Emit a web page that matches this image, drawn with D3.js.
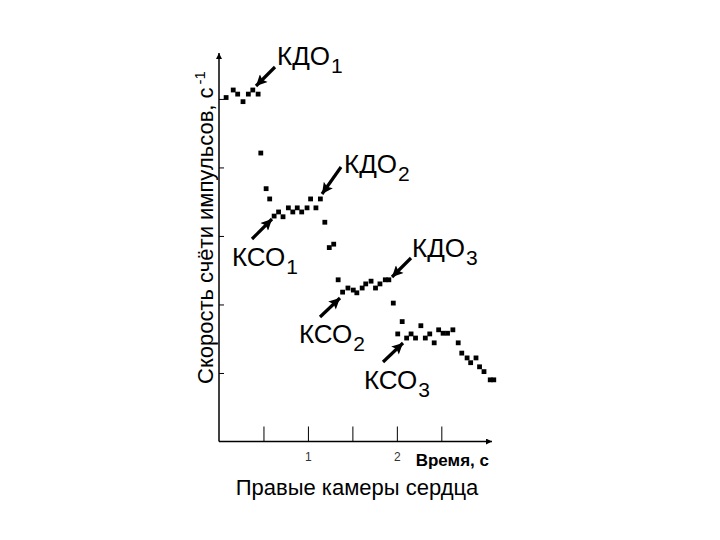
<!DOCTYPE html>
<html><head><meta charset="utf-8">
<script src="https://cdn.jsdelivr.net/npm/d3@7"></script>
<style>body{margin:0;background:#fff}svg{display:block}</style>
</head><body>
<svg id="c" width="720" height="540"></svg>
<script>
// Time (s) and count-rate (relative units)
const times = [0.08,0.16,0.21,0.27,0.33,0.38,0.44,
  0.47,0.53,0.57,0.62,0.67,0.72,0.78,0.83,0.88,0.93,0.99,1.03,1.09,1.14,1.19,1.24,1.29,
  1.34,1.39,1.45,1.51,1.55,1.61,1.65,1.71,1.76,1.81,1.87,1.91,
  1.96,2.06,2.01,2.11,2.16,2.21,2.27,2.32,2.37,2.42,2.47,2.52,2.57,2.63,2.69,2.73,2.79,2.83,2.89,2.93,2.98,3.05,3.09];
const rates = [5.02,5.13,5.07,4.96,5.07,5.13,5.07,
  4.21,3.69,3.54,3.29,3.35,3.28,3.41,3.35,3.41,3.35,3.41,3.54,3.41,3.54,3.20,2.83,2.88,
  2.36,2.18,2.24,2.21,2.17,2.24,2.30,2.34,2.24,2.30,2.36,2.36,
  2.02,1.75,1.57,1.51,1.57,1.51,1.69,1.51,1.57,1.44,1.63,1.58,1.58,1.63,1.44,1.29,1.22,1.15,1.22,1.09,1.02,0.90,0.90];
const xTicks = [0.5,1,1.5,2,2.5];
const xTickLabels = ["", "1", "", "2", ""];
const yTicks = [1,2,3,4,5];
const labelNames = ["КДО","КДО","КСО","КДО","КСО","КСО"];
const labelSubs = ["1","2","1","3","2","3"];
const yTitle = "Скорость счёти импульсов, с";
const yTitleSup = "-1";
const xTitle = "Время, с";
const caption = "Правые камеры сердца";

const svg = d3.select("#c");
const FONT = "'Liberation Sans', Arial, sans-serif";
const x = d3.scaleLinear().domain([0, 3.07]).range([219, 492]);
const y = d3.scaleLinear().domain([0, 5.67]).range([441.5, 53]);

const defs = svg.append("defs");
defs.append("marker").attr("id","ax").attr("viewBox","0 0 10 10").attr("refX",10).attr("refY",5)
  .attr("markerWidth",8).attr("markerHeight",6).attr("markerUnits","userSpaceOnUse").attr("orient","auto")
  .append("path").attr("d","M0,0 L10,5 L0,10 Z").attr("fill","#000");
defs.append("marker").attr("id","ar").attr("viewBox","0 0 10 10").attr("refX",10).attr("refY",5)
  .attr("markerWidth",15).attr("markerHeight",11).attr("markerUnits","userSpaceOnUse").attr("orient","auto")
  .append("path").attr("d","M0,0 L10,5 L0,10 L2,5 Z").attr("fill","#000");

svg.append("line").attr("x1",x(0)).attr("y1",y(0)).attr("x2",x(0)).attr("y2",y.range()[1])
  .attr("stroke","#000").attr("stroke-width",1.5).attr("marker-end","url(#ax)");
svg.append("line").attr("x1",x(0)).attr("y1",y(0)).attr("x2",x.range()[1]).attr("y2",y(0))
  .attr("stroke","#000").attr("stroke-width",1.5).attr("marker-end","url(#ax)");

const xa = svg.append("g").attr("transform",`translate(0,${y(0)})`)
  .call(d3.axisBottom(x).tickValues(xTicks).tickSize(-15).tickPadding(11)
    .tickFormat((d,i)=>xTickLabels[i]));
xa.select(".domain").remove();
xa.selectAll("line").attr("stroke","#000").attr("stroke-width",1);
xa.selectAll("text").attr("font-family",FONT).attr("font-size",12).attr("fill","#333");

const ya = svg.append("g").attr("transform",`translate(${x(0)},0)`)
  .call(d3.axisRight(y).tickValues(yTicks).tickSize(5).tickFormat(""));
ya.select(".domain").remove();
ya.selectAll("line").attr("stroke","#000").attr("stroke-width",1);

const pts = times.map((t,i)=>({t, v: rates[i]}));
svg.append("g").selectAll("rect").data(pts).join("rect")
  .attr("x", d=>x(d.t)-2.4).attr("y", d=>y(d.v)-2.4)
  .attr("width",4.8).attr("height",4.8).attr("fill","#000");

const ann = [
  {tail:[275,67], tip:[256,86], tx:277, ty:65},
  {tail:[341,167], tip:[322,194], tx:344, ty:173},
  {tail:[252,239], tip:[272,219], tx:232, ty:266},
  {tail:[411,258], tip:[392,277], tx:412, ty:257},
  {tail:[320,317], tip:[340,298], tx:299, ty:343},
  {tail:[383,362], tip:[403,343], tx:364, ty:389}
];
ann.forEach((a,i)=>{
  svg.append("line").attr("x1",a.tail[0]).attr("y1",a.tail[1]).attr("x2",a.tip[0]).attr("y2",a.tip[1])
    .attr("stroke","#000").attr("stroke-width",3.2).attr("marker-end","url(#ar)");
  const t = svg.append("text").attr("x",a.tx).attr("y",a.ty).attr("font-family",FONT)
    .attr("font-size",26).attr("fill","#000");
  t.append("tspan").text(labelNames[i]);
  t.append("tspan").attr("dy",8).attr("dx",1).attr("font-size",21).text(labelSubs[i]);
});

const yt = svg.append("text").attr("transform","translate(213,384) rotate(-90)")
  .attr("font-family",FONT).attr("font-size",22).attr("fill","#000");
yt.append("tspan").text(yTitle);
yt.append("tspan").attr("dy",-8).attr("dx",3).attr("font-size",15).text(yTitleSup);

svg.append("text").attr("x",489).attr("y",466).attr("text-anchor","end")
  .attr("font-family",FONT).attr("font-size",17).attr("font-weight","bold").text(xTitle);
svg.append("text").attr("x",357).attr("y",495).attr("text-anchor","middle")
  .attr("font-family",FONT).attr("font-size",22).text(caption);
</script>
</body></html>
